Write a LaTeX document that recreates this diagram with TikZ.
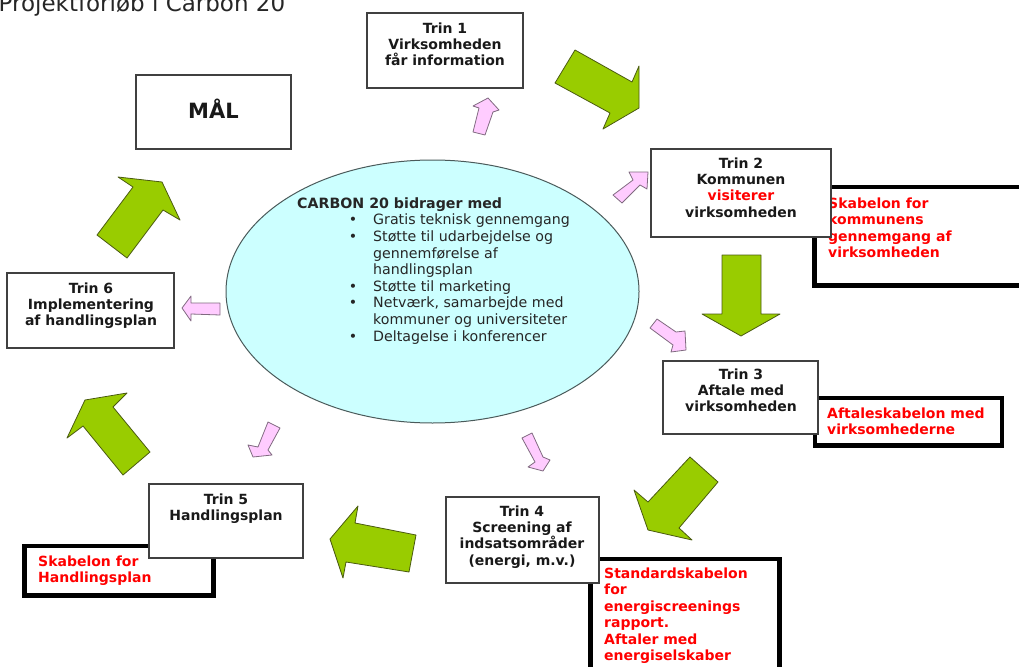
\documentclass[tikz,border=0pt]{standalone}
\usepackage{fontspec}
\setmainfont{DejaVu Sans}
\usetikzlibrary{shapes.geometric}
\definecolor{arrowgreen}{HTML}{99CC00}
\definecolor{greenline}{HTML}{4A5A10}
\definecolor{arrowpink}{HTML}{FFCCFF}
\definecolor{pinkline}{HTML}{806A80}
\definecolor{ellfill}{HTML}{CCFFFF}
\definecolor{ellline}{HTML}{4A5A5A}
\definecolor{boxgray}{HTML}{404040}
\definecolor{redtxt}{HTML}{FF0000}
\begin{document}
\begin{tikzpicture}[x=1pt,y=-1pt,
  thinbox/.style={draw=boxgray, line width=1.2pt, fill=white, inner sep=0pt, outer sep=0pt},
  thickbox/.style={draw=black, line width=4.5pt, fill=white, inner sep=0pt, outer sep=0pt},
  trintext/.style={font=\fontsize{14}{16.3}\selectfont\bfseries, align=center, inner sep=0pt, anchor=north, text=black!90},
  redtext/.style={font=\fontsize{14}{16.5}\selectfont\bfseries, text=redtxt, align=left, inner sep=0pt, anchor=north west},
  greenarrow/.style={fill=arrowgreen, draw=greenline, line width=0.8pt, line join=round},
  pinkarrow/.style={fill=arrowpink, draw=pinkline, line width=0.8pt, line join=round}]
\useasboundingbox (0,0) rectangle (1019,666);
\clip (0,0) rectangle (1019,666);

% title
\node[anchor=base west, inner sep=0pt, font=\fontsize{23}{26}\selectfont, text=black!85] (title) at (-1.5,12) {Projektforløb i Carbon 20};

% ellipse
\node[ellipse, draw=ellline, line width=1pt, fill=ellfill, minimum width=413pt, minimum height=263pt, inner sep=0pt] (ell) at (432.5,291.5) {};
\node[anchor=north west, align=left, inner sep=0pt, font=\fontsize{14.2}{16.6}\selectfont, text=black!85] (elltext) at (297,197.4)
 {\textbf{CARBON 20 bidrager med}\\
  \hspace*{76pt}\llap{•\hspace{16pt}}Gratis teknisk gennemgang\\
  \hspace*{76pt}\llap{•\hspace{16pt}}Støtte til udarbejdelse og\\
  \hspace*{76pt}gennemførelse af\\
  \hspace*{76pt}handlingsplan\\
  \hspace*{76pt}\llap{•\hspace{16pt}}Støtte til marketing\\
  \hspace*{76pt}\llap{•\hspace{16pt}}Netværk, samarbejde med\\
  \hspace*{76pt}kommuner og universiteter\\
  \hspace*{76pt}\llap{•\hspace{16pt}}Deltagelse i konferencer};

% thick template boxes with red text
\node[thickbox, minimum width=215pt, minimum height=98.5pt] (sk2) at (922,236.25) {};
\node[redtext] (sk2t) at (828,197.5) {Skabelon for\\kommunens\\gennemgang af\\virksomheden};
\node[thickbox, minimum width=187pt, minimum height=47.5pt] (sk3) at (908.5,421.75) {};
\node[redtext] (sk3t) at (827,407.5) {Aftaleskabelon med\\virksomhederne};
\node[thickbox, minimum width=189pt, minimum height=141pt] (sk4) at (685,629.5) {};
\node[redtext] (sk4t) at (604,567.5) {Standardskabelon\\for\\energiscreenings\\rapport.\\Aftaler med\\energiselskaber};
\node[thickbox, minimum width=189pt, minimum height=49.5pt] (sk5) at (119,570.75) {};
\node[redtext] (sk5t) at (38,555.5) {Skabelon for\\Handlingsplan};

% thin boxes
\node[thinbox, minimum width=155pt, minimum height=74pt] (maal) at (213.5,112) {};
\node[anchor=base, inner sep=0pt, font=\fontsize{21}{24}\selectfont\bfseries, text=black!90] (maalt) at (213.5,119) {MÅL};
\node[thinbox, minimum width=156pt, minimum height=75pt] (t1) at (445,50.5) {};
\node[trintext] (t1t) at (445,22.5) {Trin 1\\Virksomheden\\får information};
\node[thinbox, minimum width=180pt, minimum height=88pt] (t2) at (741,193) {};
\node[trintext] (t2t) at (741,157.5) {Trin 2\\Kommunen\\\textcolor{redtxt}{visiterer}\\virksomheden};
\node[thinbox, minimum width=155pt, minimum height=73pt] (t3) at (740.5,397.5) {};
\node[trintext] (t3t) at (741,368.5) {Trin 3\\Aftale med\\virksomheden};
\node[thinbox, minimum width=153pt, minimum height=86pt] (t4) at (522.5,540) {};
\node[trintext] (t4t) at (522,505.5) {Trin 4\\Screening af\\indsatsområder\\(energi, m.v.)};
\node[thinbox, minimum width=154pt, minimum height=74pt] (t5) at (226,521) {};
\node[trintext] (t5t) at (226,493.5) {Trin 5\\Handlingsplan};
\node[thinbox, minimum width=167pt, minimum height=75pt] (t6) at (90.5,310.5) {};
\node[trintext] (t6t) at (91,282.5) {Trin 6\\Implementering\\af handlingsplan};

% green block arrows
\draw[greenarrow] (555,83) -- (575,50) -- (632,82) -- (639,66) -- (639,108) -- (603,129) -- (610,113) -- cycle;
\draw[greenarrow] (722,255) -- (761,255) -- (761,314) -- (780,314) -- (741,336) -- (702,314) -- (722,314) -- cycle;
\draw[greenarrow] (690,457) -- (718,482) -- (679,528) -- (692,540) -- (648,530) -- (634,490) -- (648,502) -- cycle;
\draw[greenarrow] (330,539) -- (358,506) -- (355,523) -- (416,535) -- (409,572) -- (346,562) -- (343,578) -- cycle;
\draw[greenarrow] (85,400) -- (127,393) -- (113,407) -- (150,452) -- (123,475) -- (83,426) -- (67,438) -- cycle;
\draw[greenarrow] (118,177) -- (162,182) -- (180,220) -- (163,210) -- (127,258) -- (97,235) -- (133,187) -- cycle;

% pink arrows
\draw[pinkarrow] (488,98) -- (499,110) -- (493,112) -- (485,135) -- (473,132) -- (479,108) -- (473,106) -- cycle;
\draw[pinkarrow] (613,195) -- (633,180) -- (629,172) -- (648,172) -- (647,189) -- (640,185) -- (622,203) -- cycle;
\draw[pinkarrow] (650,328) -- (657,319) -- (676,332) -- (685,331) -- (686,350) -- (671,352) -- (673,345) -- cycle;
\draw[pinkarrow] (182,308) -- (191,296) -- (191,303) -- (220,303) -- (220,315) -- (191,314) -- (191,321) -- cycle;
\draw[pinkarrow] (268,422) -- (280,428) -- (268,450) -- (272,455) -- (253,457) -- (248,445) -- (258,447) -- cycle;
\draw[pinkarrow] (522,438) -- (532,433) -- (543,457) -- (550,460) -- (543,471) -- (528,467) -- (535,462) -- cycle;
\end{tikzpicture}
\end{document}
